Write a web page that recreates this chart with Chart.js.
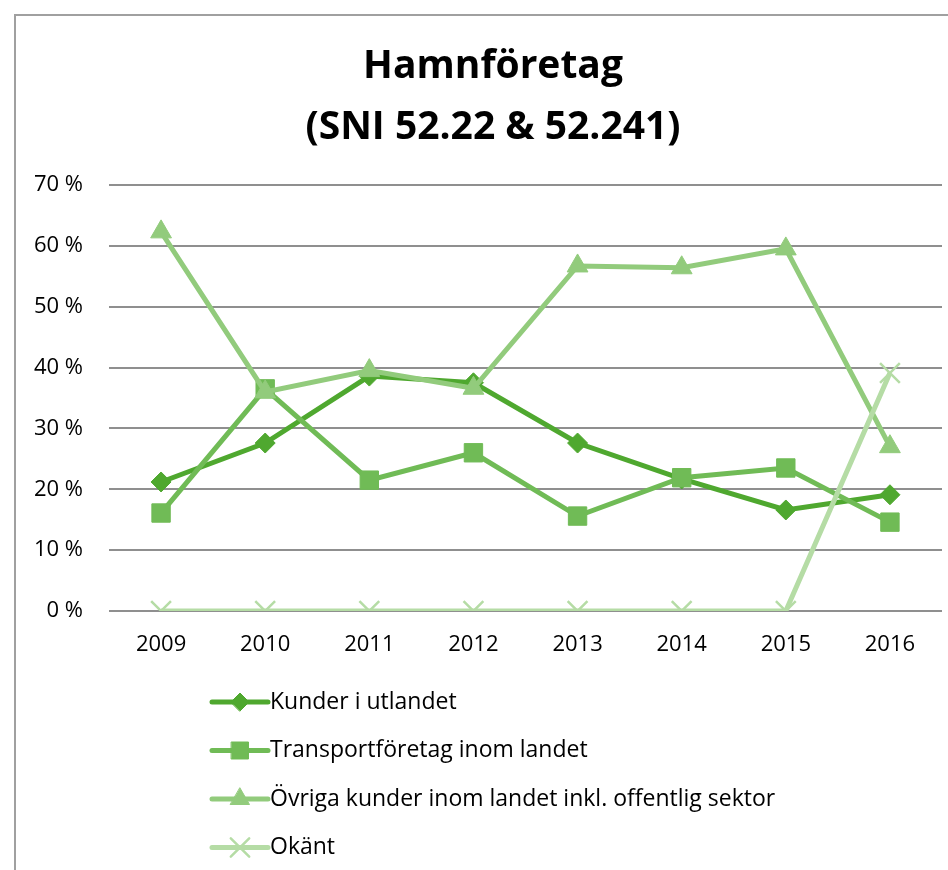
<!DOCTYPE html>
<html>
<head>
<meta charset="utf-8">
<script src="https://cdn.jsdelivr.net/npm/chart.js@4"></script>
<style>
  html, body { margin: 0; padding: 0; background: #fff; overflow: hidden; }
  #frame { position: absolute; left: 14px; top: 14px; width: 1000px; height: 1000px; border: 2px solid #a0a0a0; }
  #wrap { position: absolute; left: 0; top: 0; width: 960px; height: 870px; }
</style>
</head>
<body>
<div id="frame"></div>
<div id="wrap"><canvas id="chart"></canvas></div>
<script>
const years = ['2009', '2010', '2011', '2012', '2013', '2014', '2015', '2016'];
const kunderUtlandet = [21.2, 27.6, 38.6, 37.5, 27.6, 21.7, 16.6, 19.1];
const transportforetag = [16.1, 36.5, 21.5, 26.0, 15.6, 21.9, 23.5, 14.6];
const ovrigaKunder = [62.3, 36.0, 39.5, 36.6, 56.7, 56.4, 59.5, 27.0];
const okant = [0, 0, 0, 0, 0, 0, 0, 39.1];
const yTicks = [0, 10, 20, 30, 40, 50, 60, 70];
const titleLines = ['Hamnföretag', '(SNI 52.22 & 52.241)'];

const fontFamily = '"Open Sans", Lato, sans-serif';

// two-line title, centred a bit right of the plot like the original
const titleBlock = {
    id: 'titleBlock',
    afterDraw(chart) {
        const ctx = chart.ctx;
        ctx.save();
        ctx.fillStyle = '#000';
        ctx.font = 'bold 39px ' + fontFamily;
        ctx.textAlign = 'center';
        ctx.textBaseline = 'middle';
        titleLines.forEach((t, i) => ctx.fillText(t, 493, 67 + i * 61));
        ctx.restore();
    }
};

// legend stacked vertically under the plot, like the Excel original
const stackedLegend = {
    id: 'stackedLegend',
    afterDraw(chart) {
        const ctx = chart.ctx;
        const x0 = 212, x1 = 268, mid = 240, textX = 270;
        let y = chart.chartArea.bottom + 91;
        const items = chart.data.datasets;
        ctx.save();
        items.forEach(ds => {
            ctx.strokeStyle = ds.borderColor;
            ctx.lineWidth = 5;
            ctx.lineCap = 'round';
            ctx.beginPath();
            ctx.moveTo(x0, y);
            ctx.lineTo(x1, y);
            ctx.stroke();
            ctx.fillStyle = ds.pointBackgroundColor;
            ctx.strokeStyle = ds.pointBorderColor;
            ctx.lineWidth = ds.pointBorderWidth;
            Chart.helpers.drawPoint(ctx, {
                pointStyle: ds.pointStyle,
                radius: ds.legendRadius,
                rotation: 0,
                borderWidth: ds.pointBorderWidth
            }, mid, y);
            ctx.fillStyle = '#000';
            ctx.font = '23px ' + fontFamily;
            ctx.textAlign = 'left';
            ctx.textBaseline = 'middle';
            ctx.fillText(ds.label, textX, y);
            y += 48.5;
        });
        ctx.restore();
    }
};

function series(label, data, color, style, radius, legendRadius, order, bw) {
    return {
        label: label,
        data: data,
        borderColor: color,
        backgroundColor: color,
        pointBackgroundColor: color,
        pointBorderColor: color,
        pointBorderWidth: bw,
        borderWidth: 5,
        pointStyle: style,
        pointRadius: radius,
        pointHoverRadius: radius,
        legendRadius: legendRadius,
        order: order,
        tension: 0
    };
}

new Chart(document.getElementById('chart').getContext('2d'), {
    type: 'line',
    data: {
        labels: years,
        datasets: [
            series('Kunder i utlandet', kunderUtlandet, '#4fa82f', 'rectRot', 10, 9, 4, 1),
            series('Transportföretag inom landet', transportforetag, '#70bb56', 'rect', 13, 12, 3, 1),
            series('Övriga kunder inom landet inkl. offentlig sektor', ovrigaKunder, '#92cb7c', 'triangle', 12, 11, 2, 1),
            series('Okänt', okant, '#b5dca5', 'crossRot', 14, 13, 1, 2.5)
        ]
    },
    options: {
        responsive: true,
        maintainAspectRatio: false,
        animation: false,
        layout: { padding: { left: 30, right: 18, top: 185, bottom: 211 } },
        plugins: {
            legend: { display: false },
            tooltip: { enabled: false },
            title: { display: false }
        },
        scales: {
            x: {
                offset: true,
                afterFit(scale) { scale.height = 48; },
                grid: { display: false, drawTicks: false },
                border: { display: false },
                ticks: { color: '#000', font: { family: fontFamily, size: 22 }, padding: 21 }
            },
            y: {
                min: 0,
                max: 70,
                afterFit(scale) { scale.width = 79; },
                afterBuildTicks(scale) { scale.ticks = yTicks.map(v => ({ value: v })); },
                grid: { color: '#8f8f8f', lineWidth: 2, drawTicks: false },
                border: { display: false },
                ticks: {
                    color: '#000',
                    font: { family: fontFamily, size: 22 },
                    padding: 26,
                    callback: v => v + ' %'
                }
            }
        }
    },
    plugins: [titleBlock, stackedLegend]
});
</script>
</body>
</html>
